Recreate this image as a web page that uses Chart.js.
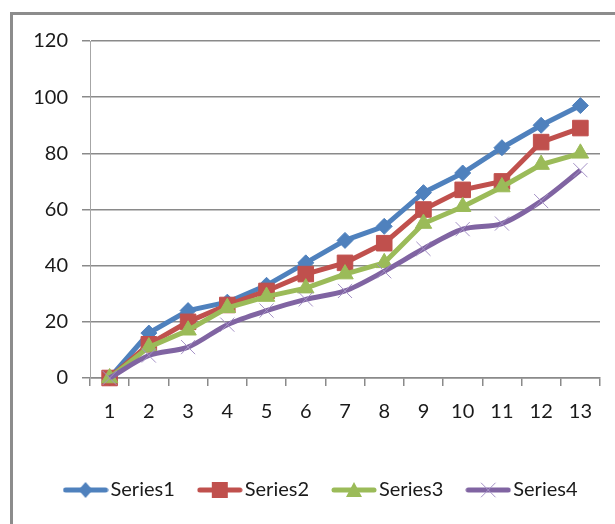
<!DOCTYPE html>
<html lang="en">
<head>
    <meta charset="UTF-8">
    <title>Series chart</title>
    <script src="https://cdn.jsdelivr.net/npm/chart.js"></script>
    <style>
        html, body {
            margin: 0;
            padding: 0;
            background: #fff;
        }
        .wrap {
            position: relative;
            width: 615px;
            height: 524px;
            overflow: hidden;
        }
        .frame {
            position: absolute;
            left: 10px;
            top: 12px;
            width: 640px;
            height: 560px;
            border-left: 3px solid #8c8c8c;
            border-top: 3px solid #8c8c8c;
        }
        canvas {
            position: absolute;
            left: 0;
            top: 0;
        }
    </style>
</head>
<body>
<div class="wrap">
    <div class="frame"></div>
    <canvas id="chart" width="615" height="524"></canvas>
</div>
<script>
    // values
    const categories = ['1', '2', '3', '4', '5', '6', '7', '8', '9', '10', '11', '12', '13'];
    const series1 = [0, 16, 24, 27, 33, 41, 49, 54, 66, 73, 82, 90, 97];
    const series2 = [0, 12, 20, 26, 31, 37, 41, 48, 60, 67, 70, 84, 89];
    const series3 = [0, 11, 17, 25, 29, 32, 37, 41, 55, 61, 68, 76, 80];
    const series4 = [0, 8, 11, 19, 24, 28, 31, 38, 46, 53, 55, 63, 74];
    const seriesNames = ['Series1', 'Series2', 'Series3', 'Series4'];
    const yTicks = [0, 20, 40, 60, 80, 100, 120];

    const colors = ['#4f81bd', '#c0504d', '#9bbb59', '#8064a2'];
    const fontFamily = 'Lato, "Liberation Sans", sans-serif';

    // small legend pictures: a line with the marker in the middle
    function legendSwatch(i) {
        const c = document.createElement('canvas');
        c.width = 46;
        c.height = 22;
        const g = c.getContext('2d');
        g.strokeStyle = colors[i];
        g.lineWidth = 5;
        g.lineCap = 'round';
        g.beginPath();
        g.moveTo(3, 11);
        g.lineTo(43, 11);
        g.stroke();
        g.fillStyle = colors[i];
        g.beginPath();
        if (i === 0) {
            g.moveTo(23, 3); g.lineTo(30, 11); g.lineTo(23, 19); g.lineTo(16, 11);
            g.fill();
        } else if (i === 1) {
            g.fillRect(15, 3, 16, 16);
        } else if (i === 2) {
            g.moveTo(23, 3); g.lineTo(31, 18); g.lineTo(15, 18);
            g.fill();
        } else {
            g.strokeStyle = '#a491c6';
            g.lineWidth = 1;
            g.moveTo(16, 4); g.lineTo(30, 18);
            g.moveTo(30, 4); g.lineTo(16, 18);
            g.stroke();
        }
        return c;
    }

    const pointStyles = ['rectRot', 'rect', 'triangle', 'crossRot'];
    const pointRadii = [8, 11, 9.5, 10];
    const allSeries = [series1, series2, series3, series4];

    const datasets = allSeries.map((vals, i) => ({
        label: seriesNames[i],
        data: vals,
        borderColor: colors[i],
        backgroundColor: colors[i],
        borderWidth: 5,
        pointStyle: pointStyles[i],
        pointRadius: pointRadii[i],
        pointHoverRadius: pointRadii[i],
        pointBorderWidth: 1,
        pointBorderColor: i === 3 ? '#a491c6' : colors[i],
        pointBackgroundColor: colors[i],
        tension: i === 3 ? 0.3 : 0,
        clip: false,
        order: 4 - i
    }));

    const gridColor = '#8a8a8a';

    new Chart(document.getElementById('chart'), {
        type: 'line',
        data: { labels: categories, datasets: datasets },
        options: {
            responsive: false,
            animation: false,
            layout: { padding: { left: 33, right: 0, top: 41, bottom: 14 } },
            plugins: {
                tooltip: { enabled: false },
                legend: {
                    position: 'bottom',
                    labels: {
                        usePointStyle: true,
                        pointStyleWidth: 30,
                        padding: 30,
                        color: '#1a1a1a',
                        font: { family: fontFamily, size: 20 },
                        generateLabels: function (chart) {
                            return seriesNames.map((name, i) => ({
                                text: name,
                                datasetIndex: i,
                                pointStyle: legendSwatch(i),
                                fillStyle: colors[i],
                                strokeStyle: colors[i],
                                lineWidth: 0,
                                hidden: false,
                                fontColor: '#1a1a1a'
                            }));
                        }
                    }
                }
            },
            scales: {
                x: {
                    offset: true,
                    afterFit: function (scale) {
                        scale.height = 72;
                        scale.paddingRight = 15;
                    },
                    grid: {
                        display: true,
                        drawOnChartArea: false,
                        drawTicks: true,
                        tickLength: 8,
                        color: gridColor,
                        lineWidth: 1.5,
                        offset: true
                    },
                    border: { display: true, color: gridColor, width: 1.5 },
                    ticks: {
                        color: '#1a1a1a',
                        padding: 14,
                        maxRotation: 0,
                        font: { family: fontFamily, size: 20 }
                    }
                },
                y: {
                    min: 0,
                    max: 120,
                    afterFit: function (scale) { scale.width = 57; },
                    afterBuildTicks: function (scale) {
                        scale.ticks = yTicks.map(v => ({ value: v }));
                    },
                    grid: {
                        color: gridColor,
                        lineWidth: 1.5,
                        drawTicks: true,
                        tickLength: 8
                    },
                    border: { display: true, color: '#a6a6a6', width: 1 },
                    ticks: {
                        color: '#1a1a1a',
                        padding: 14,
                        font: { family: fontFamily, size: 20 }
                    }
                }
            }
        }
    });
</script>
</body>
</html>
